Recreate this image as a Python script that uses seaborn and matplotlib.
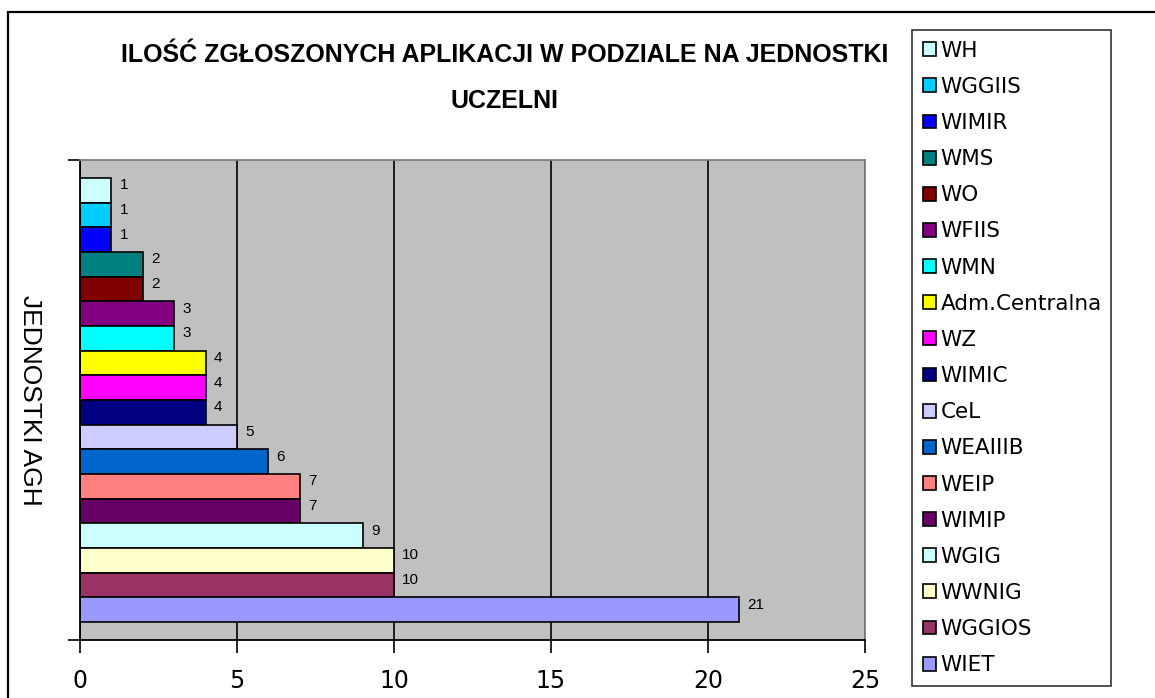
import matplotlib
matplotlib.use("Agg")
import matplotlib.pyplot as plt
from matplotlib.patches import Rectangle
import seaborn as sns
import pandas as pd

units = ["WH", "WGGIIS", "WIMIR", "WMS", "WO", "WFIIS", "WMN", "Adm.Centralna",
         "WZ", "WIMIC", "CeL", "WEAIIIB", "WEIP", "WIMIP", "WGIG", "WWNIG",
         "WGGIOS", "WIET"]
counts = [1, 1, 1, 2, 2, 3, 3, 4, 4, 4, 5, 6, 7, 7, 9, 10, 10, 21]
colors = ["#CCFFFF", "#00CCFF", "#0000FF", "#008080", "#800000", "#800080",
          "#00FFFF", "#FFFF00", "#FF00FF", "#000080", "#CCCCFF", "#0066CC",
          "#FF8080", "#660066", "#CCFFFF", "#FFFFCC", "#993366", "#9999FF"]
xticks = [0, 5, 10, 15, 20, 25]
title = "ILOŚĆ ZGŁOSZONYCH APLIKACJI W PODZIALE NA JEDNOSTKI\nUCZELNI"
ylabel = "JEDNOSTKI AGH"

plt.rcParams["font.family"] = ["DejaVu Sans"]

W, H = 1155, 698
fig = plt.figure(figsize=(W / 100, H / 100), dpi=100)
fig.patch.set_facecolor("white")

# axes placement in pixels
x0, x1, y0, y1 = 80, 865, 160, 640
ax = fig.add_axes([x0 / W, 1 - y1 / H, (x1 - x0) / W, (y1 - y0) / H])
ax.set_facecolor("#C0C0C0")

df = pd.DataFrame({"unit": units, "count": counts})
sns.barplot(data=df, y="unit", x="count", hue="unit", palette=colors,
            order=units, hue_order=units, width=1.0, saturation=1,
            edgecolor="black", linewidth=1.2, orient="h", legend=True, ax=ax)

pad = 0.73
ax.set_ylim(len(units) - 0.5 + pad, -0.5 - pad)
ax.set_xlim(0, 25)
ax.set_xticks(xticks)
ax.set_xticklabels([str(t) for t in xticks], fontsize=17)
ax.set_yticks([len(units) - 0.5 + pad, -0.5 - pad])
ax.set_yticklabels(["", ""])
ax.tick_params(axis="both", direction="out", length=9, width=1.2, color="black")
ax.tick_params(axis="x", pad=12)
ax.set_xlabel("")
ax.grid(axis="x", color="black", linewidth=1.2)
ax.grid(axis="y", visible=False)
ax.set_axisbelow(True)

for s in ["left", "bottom"]:
    ax.spines[s].set_color("black")
    ax.spines[s].set_linewidth(1.3)
for s in ["top", "right"]:
    ax.spines[s].set_color("#808080")
    ax.spines[s].set_linewidth(1.3)

ax.set_ylabel(ylabel, rotation=-90, fontsize=19, family="Liberation Sans",
              ha="center", va="center")
ax.yaxis.set_label_coords((30 - x0) / (x1 - x0), 0.5)

# data labels
for cont in ax.containers:
    for bar in cont:
        w = bar.get_width()
        yc = bar.get_y() + bar.get_height() / 2
        ax.annotate(f"{w:g}", xy=(w, yc), xytext=(6, 3.5),
                    textcoords="offset points", ha="left", va="center",
                    fontsize=11, family="Liberation Sans", color="black")

# title
fig.text(505 / W, 1 - 78 / H, title, ha="center", va="center",
         fontsize=18, fontweight="bold", family="Liberation Sans",
         linespacing=2.2)

# legend
handles, labels = ax.get_legend_handles_labels()
if ax.get_legend() is not None:
    ax.get_legend().remove()
leg = fig.legend(handles, labels, loc="upper left",
                 bbox_to_anchor=(912 / W, 1 - 682 / H, (1111 - 912) / W, (682 - 30) / H),
                 mode="expand", borderaxespad=0, frameon=True, fancybox=False,
                 edgecolor="black", fontsize=15.5, handlelength=0.62,
                 handleheight=0.62, handletextpad=0.2, labelspacing=0.75,
                 borderpad=0.5)
leg.get_frame().set_linewidth(1.2)
for h in leg.legend_handles:
    h.set_edgecolor("black")
    h.set_linewidth(1.2)

# outer chart border
fig.add_artist(Rectangle((8 / W, -0.1), 1.2, 1.1 - 12 / H,
                         transform=fig.transFigure, fill=False,
                         edgecolor="black", linewidth=1.6))

fig.savefig("out.png", dpi=100)
